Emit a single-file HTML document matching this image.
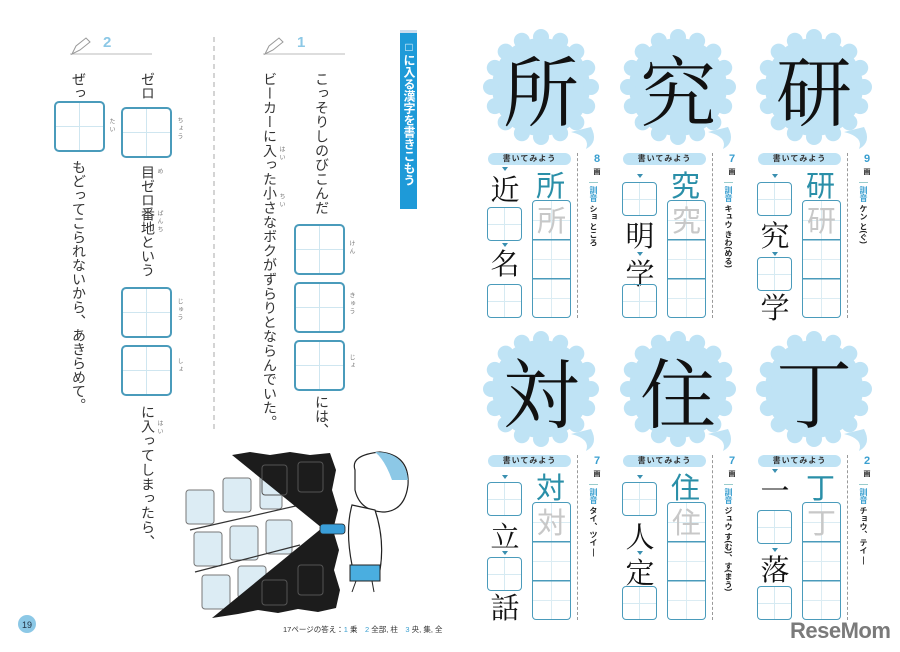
<!DOCTYPE html>
<html><head><meta charset="utf-8">
<style>
*{margin:0;padding:0;box-sizing:border-box}
body{width:900px;height:652px;background:#fff;position:relative;overflow:hidden;font-family:"Liberation Sans","Noto Sans CJK JP",sans-serif;color:#222}
.a{position:absolute}
.v{position:absolute;writing-mode:vertical-rl;font-size:14px;line-height:14px;white-space:nowrap;font-family:"Liberation Sans","Noto Sans CJK JP",sans-serif;color:#333}
.rb{position:absolute;writing-mode:vertical-rl;font-size:6px;line-height:6px;color:#777;letter-spacing:2px}
.bx{position:absolute;border:2px solid #4a9bbb;border-radius:5px;background:linear-gradient(#cfe6f0,#cfe6f0) center/1px 100% no-repeat,linear-gradient(#cfe6f0,#cfe6f0) center/100% 1px no-repeat}
.sb{position:absolute;border:1.5px solid #4a9bbb;border-radius:4px;width:35px;height:34px;background:linear-gradient(#d6eaf2,#d6eaf2) center/1px 100% no-repeat,linear-gradient(#d6eaf2,#d6eaf2) center/100% 1px no-repeat}
.col{position:absolute;width:135px;height:300px}
.pill{position:absolute;left:1px;top:153px;width:83px;height:12px;background:#bfe3f5;border-radius:6px;font-size:8px;line-height:12px;text-align:center;font-weight:bold;color:#333;letter-spacing:1px}
.dl{position:absolute;left:90px;top:153px;height:165px;border-left:1px dashed #999}
.num{position:absolute;left:104px;top:154px;font-size:11px;font-weight:bold;color:#3a9fd0;line-height:11px;width:12px;text-align:center}
.ga{position:absolute;left:104px;top:167px;font-size:7px;width:12px;text-align:center;font-weight:bold}
.rd{position:absolute;left:102px;top:182px;writing-mode:vertical-rl;font-size:8px;line-height:9px;color:#222;font-weight:bold;border-top:1px solid #9cc;padding-top:3px}
.tall{position:absolute;left:45px;top:200px;width:39px;height:118px;border:1.5px solid #4a9bbb;border-radius:4px;background:
linear-gradient(#4a9bbb,#4a9bbb) 0 38px/100% 1.5px no-repeat,linear-gradient(#4a9bbb,#4a9bbb) 0 77px/100% 1.5px no-repeat,
linear-gradient(#dbecf3,#dbecf3) center/1px 100% no-repeat,linear-gradient(#dbecf3,#dbecf3) 0 19px/100% 1px no-repeat,linear-gradient(#dbecf3,#dbecf3) 0 58px/100% 1px no-repeat,linear-gradient(#dbecf3,#dbecf3) 0 97px/100% 1px no-repeat}
.ex{position:absolute;left:49px;top:168px;font-size:29px;line-height:32px;color:#2a8fa8;font-family:"Noto Sans CJK JP",sans-serif}
.tr{position:absolute;left:50px;top:203px;font-size:29px;line-height:32px;color:#c8c8c8;font-family:"Noto Sans CJK JP",sans-serif}
.k{position:absolute;font-size:29px;line-height:30px;font-family:"Noto Serif CJK SC",serif;color:#111;width:36px;text-align:center}
.tri{position:absolute;width:0;height:0;border-left:3px solid transparent;border-right:3px solid transparent;border-top:4px solid #3a8fb0}
.big{position:absolute;width:110px;text-align:center;font-size:76px;line-height:100px;font-family:"Noto Serif CJK SC",serif;color:#111}
</style></head><body>

<!-- LEFT PAGE -->
<svg class="a" style="left:0;top:0" width="450" height="652">
 <line x1="70" y1="54" x2="152" y2="54" stroke="#bbb" stroke-width="1"/>
 <line x1="263" y1="54" x2="345" y2="54" stroke="#bbb" stroke-width="1"/>
 <path d="M72 54 L76 46 L86 38 L90 42 L80 50 Z" fill="none" stroke="#999" stroke-width="1"/>
 <path d="M265 54 L269 46 L279 38 L283 42 L273 50 Z" fill="none" stroke="#999" stroke-width="1"/>
 <line x1="214" y1="37" x2="214" y2="432" stroke="#aaa" stroke-width="1" stroke-dasharray="5,4"/>
 <g>
  <g fill="#dcecf4" stroke="#777" stroke-width="1">
   <rect x="186" y="490" width="28" height="34" rx="3"/><rect x="223" y="478" width="28" height="34" rx="3"/><rect x="260" y="475" width="22" height="34" rx="3"/>
   <rect x="194" y="532" width="28" height="34" rx="3"/><rect x="230" y="526" width="28" height="34" rx="3"/><rect x="266" y="520" width="26" height="34" rx="3"/>
   <rect x="202" y="575" width="28" height="34" rx="3"/><rect x="238" y="566" width="28" height="32" rx="3"/>
  </g>
  <line x1="190" y1="530" x2="300" y2="505" stroke="#333" stroke-width="1.2"/>
  <line x1="195" y1="572" x2="300" y2="545" stroke="#333" stroke-width="1.2"/>
  <path d="M232 455 L250 452 L270 455 L290 452 L310 455 L330 453 L336 470 L332 490 L338 510 L333 530 L339 550 L334 570 L340 590 L336 608 L318 612 L298 609 L278 613 L258 610 L238 614 L212 618 L322 528 Z" fill="#1c1c1c"/>
  <g fill="none" stroke="#555" stroke-width="1"><rect x="262" y="465" width="25" height="30" rx="3"/><rect x="298" y="462" width="25" height="30" rx="3"/><rect x="298" y="565" width="25" height="30" rx="3"/><rect x="262" y="580" width="25" height="25" rx="3"/></g>
  <path d="M355 470 Q350 455 380 452 Q410 455 408 485 Q405 510 385 512 Q360 512 355 490 Z" fill="#fff" stroke="#222" stroke-width="1.2"/>
  <path d="M375 452 Q405 452 408 480 L392 480 Q385 460 375 452 Z" fill="#8cc8e6"/>
  <path d="M352 505 Q345 530 352 565 L380 570 Q385 540 375 510 Z" fill="#fff" stroke="#222" stroke-width="1.2"/>
  <rect x="350" y="565" width="30" height="16" fill="#4aaee0" stroke="#222" stroke-width="1"/>
  <line x1="356" y1="581" x2="352" y2="592" stroke="#222"/><line x1="372" y1="581" x2="374" y2="592" stroke="#222"/>
  <rect x="320" y="524" width="25" height="10" rx="3" fill="#3a9ed8" stroke="#222" stroke-width="0.8"/>
 </g>
 <circle cx="27" cy="624" r="9" fill="#8cc8e6"/>
 <text x="27" y="628" font-size="9" text-anchor="middle" fill="#234" font-family="Liberation Sans">19</text>
</svg>
<div class="a" style="left:103px;top:34px;font-size:15px;font-weight:bold;color:#8cc8e6">2</div>
<div class="a" style="left:297px;top:34px;font-size:15px;font-weight:bold;color:#8cc8e6">1</div>

<div class="a" style="left:400px;top:30px;width:17px;height:179px;background:#1e9ad8;border-top:3px solid #cde"></div>
<div class="v" style="left:402px;top:40px;font-size:12px;line-height:13px;color:#fff;font-weight:bold">□に入る漢字を書きこもう</div>

<div class="v" style="left:315px;top:72px;letter-spacing:0.3px">こっそりしのびこんだ</div>
<div class="bx" style="left:294px;top:224px;width:51px;height:51px"></div>
<div class="bx" style="left:294px;top:282px;width:51px;height:51px"></div>
<div class="bx" style="left:294px;top:340px;width:51px;height:51px"></div>
<div class="rb" style="left:348px;top:240px">けん</div>
<div class="rb" style="left:348px;top:292px">きゅう</div>
<div class="rb" style="left:348px;top:354px">じょ</div>
<div class="v" style="left:315px;top:395px">には、</div>
<div class="v" style="left:263px;top:72px;letter-spacing:0.3px">ビーカーに入った小さなボクがずらりとならんでいた。</div>
<div class="rb" style="left:278px;top:146px">はい</div>
<div class="rb" style="left:278px;top:193px">ちい</div>

<div class="v" style="left:141px;top:72px">ゼロ</div>
<div class="bx" style="left:121px;top:107px;width:51px;height:51px"></div>
<div class="rb" style="left:176px;top:117px">ちょう</div>
<div class="v" style="left:141px;top:165px">目ゼロ番地という</div>
<div class="rb" style="left:156px;top:168px">め</div>
<div class="rb" style="left:156px;top:210px">ばんち</div>
<div class="bx" style="left:121px;top:287px;width:51px;height:51px"></div>
<div class="bx" style="left:121px;top:345px;width:51px;height:51px"></div>
<div class="rb" style="left:176px;top:298px">じゅう</div>
<div class="rb" style="left:176px;top:358px">しょ</div>
<div class="v" style="left:141px;top:405px;letter-spacing:0.4px">に入ってしまったら、</div>
<div class="rb" style="left:156px;top:420px">はい</div>

<div class="v" style="left:72px;top:72px">ぜっ</div>
<div class="bx" style="left:54px;top:101px;width:51px;height:51px"></div>
<div class="rb" style="left:108px;top:118px">たい</div>
<div class="v" style="left:72px;top:160px">もどってこられないから、あきらめて。</div>

<div class="a" style="left:283px;top:624px;font-size:7.5px;color:#333;white-space:nowrap">17ページの答え：<span style="color:#3a9fd0">1</span> 乗　<span style="color:#3a9fd0">2</span> 全部, 柱　<span style="color:#3a9fd0">3</span> 央, 集, 全</div>

<!-- RIGHT PAGE bursts -->
<svg class="a" style="left:450px;top:0" width="450" height="652">
 <defs>
  <g id="bu" fill="#bfe3f5">
   <circle r="49"/>
   <circle cy="-50" r="8"/><circle cy="-50" r="8" transform="rotate(22.5)"/><circle cy="-50" r="8" transform="rotate(45)"/><circle cy="-50" r="8" transform="rotate(67.5)"/><circle cy="-50" r="8" transform="rotate(90)"/><circle cy="-50" r="8" transform="rotate(112.5)"/><circle cy="-50" r="8" transform="rotate(135)"/><circle cy="-50" r="8" transform="rotate(157.5)"/><circle cy="-50" r="8" transform="rotate(180)"/><circle cy="-50" r="8" transform="rotate(202.5)"/><circle cy="-50" r="8" transform="rotate(225)"/><circle cy="-50" r="8" transform="rotate(247.5)"/><circle cy="-50" r="8" transform="rotate(270)"/><circle cy="-50" r="8" transform="rotate(292.5)"/><circle cy="-50" r="8" transform="rotate(315)"/><circle cy="-50" r="8" transform="rotate(337.5)"/>
   <path d="M30 45 Q50 50 45 62 Q58 55 50 40 Z"/>
  </g>
 </defs>
 <use href="#bu" x="91" y="87"/><use href="#bu" x="228" y="87"/><use href="#bu" x="364" y="87"/>
 <use href="#bu" x="91" y="389"/><use href="#bu" x="228" y="389"/><use href="#bu" x="364" y="389"/>
</svg>
<div class="big" style="left:486px;top:38px">所</div>
<div class="big" style="left:623px;top:38px">究</div>
<div class="big" style="left:759px;top:38px">研</div>
<div class="big" style="left:486px;top:340px">対</div>
<div class="big" style="left:623px;top:340px">住</div>
<div class="big" style="left:759px;top:340px">丁</div>

<div class="col" style="left:487px;top:0">
 <div class="pill">書いてみよう</div><div class="dl"></div>
 <div class="num">8</div><div class="ga">画</div><div class="rd"><span style="color:#3a9fd0">訓音</span> ショ ところ</div>
 <div class="tall"></div><div class="ex">所</div><div class="tr">所</div>
 <div class="tri" style="left:15px;top:167px"></div>
 <div class="k" style="left:0;top:174px">近</div>
 <div class="sb" style="left:0;top:207px"></div>
 <div class="tri" style="left:15px;top:243px"></div>
 <div class="k" style="left:0;top:248px">名</div>
 <div class="sb" style="left:0;top:284px"></div>
</div>
<div class="col" style="left:622px;top:0">
 <div class="pill">書いてみよう</div><div class="dl"></div>
 <div class="num">7</div><div class="ga">画</div><div class="rd"><span style="color:#3a9fd0">訓音</span> キュウ きわ(める)</div>
 <div class="tall"></div><div class="ex">究</div><div class="tr">究</div>
 <div class="tri" style="left:15px;top:174px"></div>
 <div class="sb" style="left:0;top:182px"></div>
 <div class="k" style="left:0;top:220px">明</div>
 <div class="tri" style="left:15px;top:252px"></div>
 <div class="k" style="left:0;top:258px">学</div>
 <div class="sb" style="left:0;top:284px"></div>
</div>
<div class="col" style="left:757px;top:0">
 <div class="pill">書いてみよう</div><div class="dl"></div>
 <div class="num">9</div><div class="ga">画</div><div class="rd"><span style="color:#3a9fd0">訓音</span> ケン と(ぐ)</div>
 <div class="tall"></div><div class="ex">研</div><div class="tr">研</div>
 <div class="tri" style="left:15px;top:174px"></div>
 <div class="sb" style="left:0;top:182px"></div>
 <div class="k" style="left:0;top:220px">究</div>
 <div class="tri" style="left:15px;top:252px"></div>
 <div class="sb" style="left:0;top:257px"></div>
 <div class="k" style="left:0;top:292px">学</div>
</div>
<div class="col" style="left:487px;top:302px">
 <div class="pill">書いてみよう</div><div class="dl"></div>
 <div class="num">7</div><div class="ga">画</div><div class="rd"><span style="color:#3a9fd0">訓音</span> タイ、ツイ ―</div>
 <div class="tall"></div><div class="ex">対</div><div class="tr">対</div>
 <div class="tri" style="left:15px;top:173px"></div>
 <div class="sb" style="left:0;top:180px"></div>
 <div class="k" style="left:0;top:219px">立</div>
 <div class="tri" style="left:15px;top:249px"></div>
 <div class="sb" style="left:0;top:255px"></div>
 <div class="k" style="left:0;top:290px">話</div>
</div>
<div class="col" style="left:622px;top:302px">
 <div class="pill">書いてみよう</div><div class="dl"></div>
 <div class="num">7</div><div class="ga">画</div><div class="rd"><span style="color:#3a9fd0">訓音</span> ジュウ す(む)、す(まう)</div>
 <div class="tall"></div><div class="ex">住</div><div class="tr">住</div>
 <div class="tri" style="left:15px;top:173px"></div>
 <div class="sb" style="left:0;top:180px"></div>
 <div class="k" style="left:0;top:219px">人</div>
 <div class="tri" style="left:15px;top:249px"></div>
 <div class="k" style="left:0;top:255px">定</div>
 <div class="sb" style="left:0;top:284px"></div>
</div>
<div class="col" style="left:757px;top:302px">
 <div class="pill">書いてみよう</div><div class="dl"></div>
 <div class="num">2</div><div class="ga">画</div><div class="rd"><span style="color:#3a9fd0">訓音</span> チョウ、テイ ―</div>
 <div class="tall"></div><div class="ex">丁</div><div class="tr">丁</div>
 <div class="tri" style="left:15px;top:167px"></div>
 <div class="k" style="left:0;top:173px">一</div>
 <div class="sb" style="left:0;top:208px"></div>
 <div class="tri" style="left:15px;top:246px"></div>
 <div class="k" style="left:0;top:252px">落</div>
 <div class="sb" style="left:0;top:284px"></div>
</div>

<div class="a" style="left:790px;top:618px;font-size:22px;font-weight:bold;color:#7a7a7a;letter-spacing:-0.5px;font-family:'Liberation Sans',sans-serif">ReseMom</div>
</body></html>
